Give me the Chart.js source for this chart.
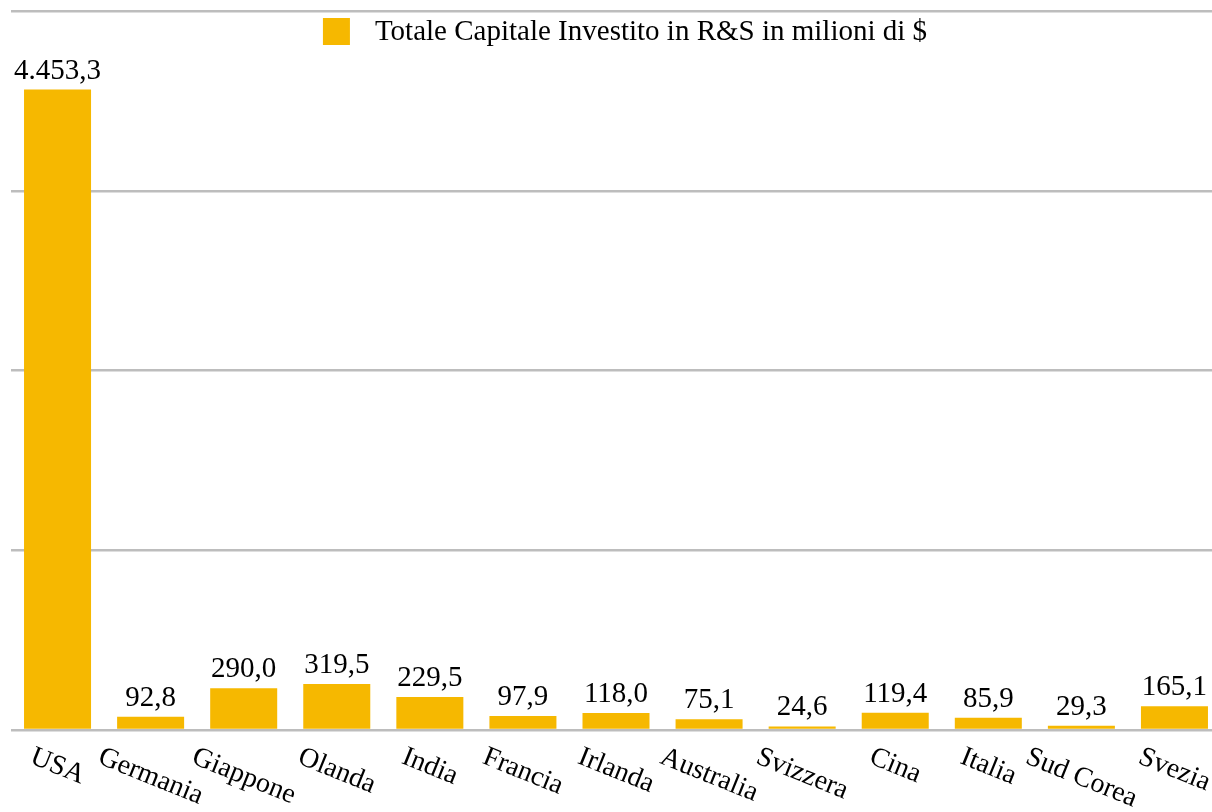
<!DOCTYPE html>
<html>
<head>
<meta charset="utf-8">
<script src="https://cdn.jsdelivr.net/npm/chart.js@4/dist/chart.umd.min.js"></script>
<style>
  html, body { margin: 0; padding: 0; background: #ffffff; overflow: hidden; }
  #wrap { position: relative; width: 1222px; height: 812px; }
</style>
</head>
<body>
<div id="wrap"><canvas id="chart"></canvas></div>
<script>
// Countries and their total R&S investment (millions of $)
const categories = ['USA', 'Germania', 'Giappone', 'Olanda', 'India', 'Francia', 'Irlanda',
  'Australia', 'Svizzera', 'Cina', 'Italia', 'Sud Corea', 'Svezia'];
const values = [4453.3, 92.8, 290.0, 319.5, 229.5, 97.9, 118.0, 75.1, 24.6, 119.4, 85.9, 29.3, 165.1];
const seriesName = 'Totale Capitale Investito in R&S in milioni di $';
// Value axis gridlines
const yTicks = [0, 1250, 2500, 3750, 5000];

const BAR_COLOR = '#F6B800';
const FONT = '"Liberation Serif", "Times New Roman", serif';
const FONT_SIZE = 29;
const TICK_FONT_SIZE = 28;

// Italian number format: 4.453,3
function fmt(v) {
  const parts = v.toFixed(1).split('.');
  return parts[0].replace(/\B(?=(\d{3})+(?!\d))/g, '.') + ',' + parts[1];
}

// Value labels above each bar
const valueLabels = {
  id: 'valueLabels',
  afterDatasetsDraw(chart) {
    const ctx = chart.ctx;
    const meta = chart.getDatasetMeta(0);
    ctx.save();
    ctx.font = FONT_SIZE + 'px ' + FONT;
    ctx.fillStyle = '#000000';
    ctx.textAlign = 'center';
    ctx.textBaseline = 'alphabetic';
    meta.data.forEach((bar, i) => {
      ctx.fillText(fmt(values[i]), bar.x, bar.y - 11);
    });
    ctx.restore();
  }
};

// Category labels, tilted clockwise and centred under each bar
const categoryLabels = {
  id: 'categoryLabels',
  afterDraw(chart) {
    const ctx = chart.ctx;
    const xScale = chart.scales.x;
    const theta = 22 * Math.PI / 180;
    const top = 743;
    ctx.save();
    ctx.font = TICK_FONT_SIZE + 'px ' + FONT;
    ctx.fillStyle = '#000000';
    ctx.textAlign = 'left';
    ctx.textBaseline = 'top';
    categories.forEach((label, i) => {
      const x = xScale.getPixelForValue(i);
      const w = ctx.measureText(label).width;
      const h = TICK_FONT_SIZE;
      const offset = (w * Math.cos(theta) - h * Math.sin(theta)) / 2;
      ctx.save();
      ctx.translate(x - offset, top);
      ctx.rotate(theta);
      ctx.fillText(label, 0, 0);
      ctx.restore();
    });
    ctx.restore();
  }
};

// Legend drawn inside the top of the plot
const topLegend = {
  id: 'topLegend',
  afterDraw(chart) {
    const ctx = chart.ctx;
    ctx.save();
    ctx.font = FONT_SIZE + 'px ' + FONT;
    const tw = ctx.measureText(seriesName).width;
    const box = 27, gap = 25;
    const total = box + gap + tw;
    const left = 625 - total / 2;
    ctx.fillStyle = BAR_COLOR;
    ctx.fillRect(left, 18, box, box);
    ctx.fillStyle = '#000000';
    ctx.textAlign = 'left';
    ctx.textBaseline = 'middle';
    ctx.fillText(seriesName, left + box + gap, 32);
    ctx.restore();
  }
};

new Chart(document.getElementById('chart'), {
  type: 'bar',
  data: {
    labels: categories,
    datasets: [{
      label: seriesName,
      data: values,
      backgroundColor: BAR_COLOR,
      borderWidth: 0,
      categoryPercentage: 1.0,
      barPercentage: 0.72
    }]
  },
  options: {
    responsive: true,
    maintainAspectRatio: false,
    animation: false,
    devicePixelRatio: 1,
    layout: { padding: { left: 11, right: 1, top: 11, bottom: 74 } },
    plugins: {
      legend: { display: false },
      tooltip: { enabled: false }
    },
    scales: {
      x: {
        grid: { display: false },
        border: { display: false },
        ticks: { display: false }
      },
      y: {
        min: yTicks[0],
        max: yTicks[yTicks.length - 1],
        afterBuildTicks(scale) {
          scale.ticks = yTicks.map(v => ({ value: v }));
        },
        grid: { color: '#bdbdbd', lineWidth: 2.5, drawTicks: false },
        border: { display: false },
        ticks: { display: false }
      }
    }
  },
  plugins: [valueLabels, categoryLabels, topLegend]
});
</script>
</body>
</html>
